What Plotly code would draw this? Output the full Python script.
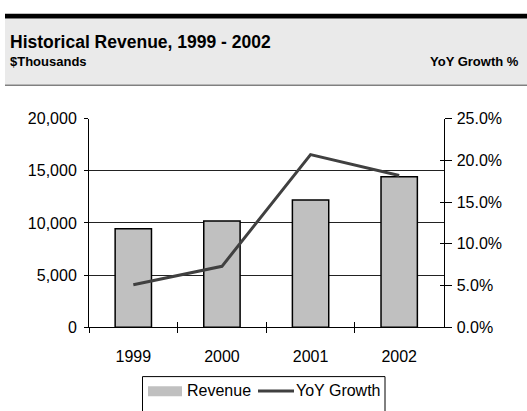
import plotly.graph_objects as go

# Revenue ($ thousands) and year-over-year growth
years = ["1999", "2000", "2001", "2002"]
revenue = [9440, 10180, 12200, 14440]
yoy_growth = [0.051, 0.073, 0.207, 0.182]

W, H = 527, 411
FONT = "Liberation Sans, Arial, sans-serif"


def px_x(v):
    return v / W


def px_y(v):
    return 1 - v / H


x_dom = [px_x(89), px_x(443.5)]
y_dom = [px_y(333), px_y(115.5)]

fig = go.Figure()

fig.add_trace(go.Bar(
    x=years, y=revenue, name="Revenue",
    marker=dict(color="#C0C0C0", line=dict(color="#000000", width=1.5)),
    width=0.41, xaxis="x", yaxis="y", showlegend=False,
))
fig.add_trace(go.Scatter(
    x=years, y=yoy_growth, name="YoY Growth", mode="lines",
    line=dict(color="#404040", width=3),
    xaxis="x", yaxis="y2", showlegend=False,
))
# invisible helper trace so the inside-tick overlay axes get categories
fig.add_trace(go.Scatter(
    x=years, y=yoy_growth, mode="lines", opacity=0, hoverinfo="skip",
    xaxis="x2", yaxis="y3", showlegend=False,
))

tickfont = dict(family=FONT, size=16, color="#000000")

fig.update_layout(
    width=W, height=H,
    margin=dict(l=0, r=0, t=0, b=0),
    paper_bgcolor="#FFFFFF", plot_bgcolor="rgba(0,0,0,0)",
    font=dict(family=FONT, color="#000000"),
    bargap=0.59,
    xaxis=dict(
        domain=x_dom, type="category", categoryorder="array", categoryarray=years,
        range=[-0.5, 3.5], tickson="boundaries", ticks="outside", ticklen=5,
        tickcolor="#000000", showline=True, linecolor="#000000", linewidth=1,
        showgrid=False, tickfont=tickfont, ticklabelstandoff=15, anchor="y",
    ),
    xaxis2=dict(
        domain=x_dom, type="category", categoryorder="array", categoryarray=years,
        range=[-0.5, 3.5], tickson="boundaries", ticks="inside", ticklen=5,
        tickcolor="#000000", showticklabels=False, showgrid=False,
        overlaying="x", anchor="y",
    ),
    yaxis=dict(
        domain=y_dom, range=[0, 20000], dtick=5000, tickformat=",",
        ticks="outside", ticklen=4, tickcolor="#000000",
        showline=True, linecolor="#000000", linewidth=1,
        showgrid=True, gridcolor="#222222", gridwidth=1, zeroline=False,
        tickfont=tickfont, ticklabelstandoff=4, anchor="x",
    ),
    yaxis2=dict(
        domain=y_dom, range=[0, 0.25], dtick=0.05, tickformat=".1%",
        ticks="outside", ticklen=7, tickcolor="#000000",
        showline=True, linecolor="#000000", linewidth=1,
        showgrid=False, zeroline=False, tickfont=tickfont, ticklabelstandoff=2,
        overlaying="y", side="right", anchor="x",
    ),
    yaxis3=dict(
        domain=y_dom, range=[0, 0.25], dtick=0.05,
        ticks="inside", ticklen=4, tickcolor="#000000",
        showticklabels=False, showgrid=False, zeroline=False,
        overlaying="y", side="right", anchor="x",
    ),
)

shapes = []
# header band
shapes.append(dict(type="rect", xref="paper", yref="paper",
                   x0=px_x(5), x1=1, y0=px_y(80), y1=px_y(11),
                   fillcolor="#EAEAEA", line=dict(width=0), layer="below"))
shapes.append(dict(type="rect", xref="paper", yref="paper",
                   x0=px_x(5), x1=1, y0=px_y(11), y1=px_y(6),
                   fillcolor="#000000", line=dict(width=0)))
shapes.append(dict(type="line", xref="paper", yref="paper",
                   x0=px_x(5), x1=1, y0=px_y(80.5), y1=px_y(80.5),
                   line=dict(color="#808080", width=1.5)))
# legend box and keys
shapes.append(dict(type="rect", xref="paper", yref="paper",
                   x0=px_x(142.5), x1=px_x(385), y0=px_y(425), y1=px_y(384.5),
                   fillcolor="#FFFFFF", line=dict(color="#000000", width=1)))
shapes.append(dict(type="rect", xref="paper", yref="paper",
                   x0=px_x(148), x1=px_x(182), y0=px_y(405), y1=px_y(394.5),
                   fillcolor="#C0C0C0", line=dict(width=0)))
shapes.append(dict(type="line", xref="paper", yref="paper",
                   x0=px_x(258), x1=px_x(294), y0=px_y(399.5), y1=px_y(399.5),
                   line=dict(color="#404040", width=3)))
fig.update_layout(shapes=shapes)

annotations = [
    dict(text="<b>Historical Revenue, 1999 - 2002</b>", x=px_x(8), y=px_y(35),
         xanchor="left", yanchor="middle", font=dict(family=FONT, size=17.5)),
    dict(text="<b>$Thousands</b>", x=px_x(8), y=px_y(56),
         xanchor="left", yanchor="middle", font=dict(family=FONT, size=13)),
    dict(text="<b>YoY Growth %</b>", x=px_x(521), y=px_y(56),
         xanchor="right", yanchor="middle", font=dict(family=FONT, size=13)),
    dict(text="Revenue", x=px_x(185), y=px_y(399.5),
         xanchor="left", yanchor="middle", font=dict(family=FONT, size=16)),
    dict(text="YoY Growth", x=px_x(294), y=px_y(399.5),
         xanchor="left", yanchor="middle", font=dict(family=FONT, size=16)),
]
for a in annotations:
    a.update(xref="paper", yref="paper", showarrow=False)
fig.update_layout(annotations=annotations)

fig.write_html("out.html")
